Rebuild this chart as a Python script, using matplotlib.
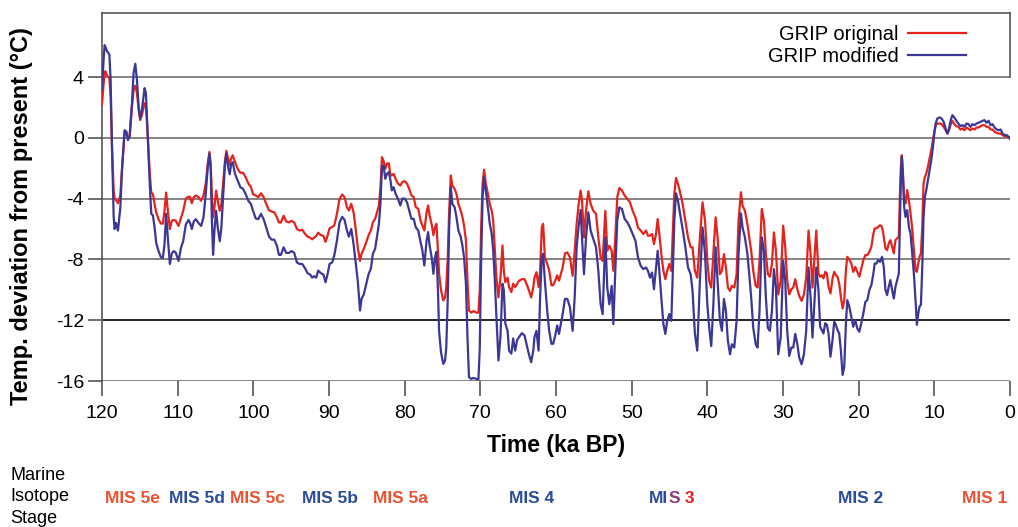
import matplotlib
matplotlib.use("Agg")
import matplotlib.pyplot as plt
from matplotlib import transforms

plt.rcParams['font.family'] = ['Liberation Sans', 'DejaVu Sans']
plt.rcParams['axes.unicode_minus'] = False

# age (ka BP), GRIP original and GRIP modified temperature deviation (°C)
age_ka = [
    120.0, 119.78, 119.65, 119.56, 119.34, 119.03, 118.86, 118.68, 118.46, 118.33,
    118.15, 117.89, 117.58, 117.36, 117.01, 116.79, 116.57, 116.35, 116.04, 115.82,
    115.6, 115.38, 115.16, 114.95, 114.73, 114.37, 114.2, 113.98, 113.71, 113.49,
    113.27, 113.05, 112.84, 112.53, 112.22, 111.96, 111.74, 111.52, 111.3, 111.03,
    110.77, 110.51, 110.24, 109.89, 109.54, 109.27, 108.92, 108.57, 108.35, 108.13,
    107.87, 107.6, 107.25, 106.9, 106.59, 106.29, 106.02, 105.8, 105.63, 105.49,
    105.32, 105.14, 104.92, 104.7, 104.44, 104.22, 104.0, 103.74, 103.56, 103.34,
    103.12, 102.95, 102.73, 102.42, 102.07, 101.71, 101.36, 101.01, 100.66, 100.31,
    100.04, 99.69, 99.34, 98.99, 98.64, 98.29, 97.93, 97.58, 97.23, 96.88,
    96.62, 96.35, 96.0, 95.65, 95.3, 94.95, 94.59, 94.24, 93.89, 93.54,
    93.19, 92.84, 92.48, 92.22, 91.96, 91.69, 91.43, 91.08, 90.73, 90.46,
    90.2, 89.93, 89.58,
    89.3, 88.95, 88.6, 88.25, 87.94, 87.63, 87.37, 87.06, 86.75, 86.5,
    86.2, 85.9, 85.7, 85.4, 85.07, 84.76, 84.46, 84.2, 83.9, 83.66,
    83.4, 83.2, 83.0, 82.8, 82.56, 82.34, 82.1, 81.9, 81.7, 81.46,
    81.2, 80.9, 80.57, 80.3, 80.0, 79.7, 79.4, 79.1, 78.8, 78.54,
    78.2, 77.9, 77.66, 77.4, 77.1, 76.9, 76.7, 76.4, 76.2, 75.98,
    75.8, 75.6, 75.45, 75.2, 74.9, 74.66, 74.5, 74.3, 74.13, 73.9,
    73.7, 73.4, 73.16, 72.9, 72.6, 72.37, 72.15, 71.9, 71.7, 71.5,
    71.2, 70.9, 70.5, 70.25, 70.07, 69.9, 69.7, 69.5, 69.28, 69.0,
    68.75, 68.5, 68.3, 68.1, 67.87, 67.6, 67.34, 67.07, 66.9, 66.7,
    66.4, 66.2, 65.9, 65.66, 65.4, 65.13, 64.87, 64.5, 64.16, 63.9,
    63.6, 63.28, 63.0, 62.84, 62.58, 62.3, 62.1, 61.87, 61.7, 61.47,
    61.16, 60.9, 60.6, 60.37, 60.1, 59.84, 59.6,
    59.12, 58.81, 58.5, 58.15, 57.8, 57.53, 57.27, 57.0, 56.74, 56.56,
    56.3, 56.03, 55.73, 55.42, 55.07, 54.71, 54.4, 54.1, 53.83, 53.48,
    53.22, 52.95, 52.64, 52.42, 52.16, 51.9, 51.63, 51.28, 50.92, 50.57,
    50.22, 49.87, 49.5, 49.16, 48.8, 48.46, 48.1, 47.84, 47.58, 47.3,
    47.05, 46.78, 46.56, 46.34, 46.08, 45.8, 45.55, 45.3, 45.02, 44.76,
    44.58, 44.36, 44.14, 43.88, 43.6, 43.26, 42.9, 42.55, 42.2,
    41.95, 41.64, 41.33, 40.98, 40.63, 40.3, 40.0, 39.75, 39.48, 39.2,
    38.9, 38.64, 38.34, 38.07, 37.8, 37.54, 37.28, 37.0, 36.75, 36.44,
    36.13, 35.87, 35.56, 35.34, 35.03, 34.7, 34.46, 34.2, 33.93, 33.6,
    33.36, 33.1, 32.8, 32.52, 32.26, 32.0, 31.73, 31.46, 31.2, 30.93,
    30.63, 30.3, 29.97, 29.7, 29.44, 29.17, 28.9, 28.64, 28.38, 28.1,
    27.85, 27.54, 27.23, 26.93, 26.62, 26.35, 26.1, 25.83, 25.6,
    25.31, 25.09, 24.87, 24.65, 24.42, 24.2, 23.98, 23.72, 23.45, 23.23,
    23.01, 22.79, 22.57, 22.35, 22.12, 21.9, 21.68, 21.5, 21.24, 20.97,
    20.71, 20.44, 20.18, 19.91, 19.65, 19.38, 19.12, 18.85, 18.58, 18.32,
    18.05, 17.88, 17.65, 17.43, 17.17, 16.9, 16.68, 16.46, 16.24, 16.02,
    15.8, 15.58, 15.35, 15.13, 14.91, 14.69, 14.56, 14.42, 14.29, 14.16,
    13.98, 13.81, 13.58, 13.36, 13.14, 12.92, 12.7, 12.48, 12.3, 12.12,
    11.95, 11.77, 11.59, 11.42, 11.24, 11.06, 10.84, 10.62, 10.4, 10.18,
    10.0, 9.82, 9.6, 9.29, 9.03, 8.76, 8.5, 8.27, 8.05, 7.83,
    7.61, 7.35, 7.08, 6.81, 6.55, 6.28, 6.02, 5.75, 5.49, 5.22,
    4.96, 4.69, 4.42, 4.16, 3.89, 3.63, 3.36, 3.1, 2.83, 2.57,
    2.3, 2.04, 1.77, 1.5, 1.24, 0.97, 0.71, 0.44, 0.18, 0.0,
]

grip_original = [
    2.2, 3.6, 4.2, 4.38, 4.1, 3.94, 2.7, -0.6, -3.5, -4.0,
    -4.1, -4.3, -3.8, -2.1, 0.4, 0.4, -0.05, 0.07, 2.06, 3.16,
    3.43, 2.94, 1.84, 1.17, 1.5, 2.28, 2.17, 0.3, -2.15, -3.6,
    -3.7, -4.36, -4.9, -5.35, -5.64, -5.64, -4.8, -3.6, -4.8, -6.0,
    -5.46, -5.4, -5.46, -5.8, -5.24, -4.8, -4.0, -3.87, -3.9, -4.3,
    -3.9, -3.8, -3.9, -4.14, -3.8, -3.0, -1.7, -0.93, -1.7, -3.7,
    -5.24, -4.58, -3.47, -4.14, -4.8, -4.36, -3.0, -1.48, -0.86, -1.37,
    -1.8, -1.37, -1.15, -1.6, -2.04, -2.3, -2.3, -2.6, -3.0, -3.25,
    -3.7, -3.8, -3.9, -3.65, -3.9, -4.36, -4.76, -4.85, -4.9, -5.24,
    -5.57, -5.57, -5.13, -5.5, -5.57, -5.46, -5.57, -6.0, -6.1, -6.05,
    -6.3, -6.5, -6.57, -6.68, -6.57, -6.46, -6.24, -6.4, -6.46, -6.84,
    -6.46, -5.95, -5.86,
    -5.77, -5.0, -4.0, -3.73, -3.9, -4.56, -4.78, -4.34, -4.9, -5.88,
    -7.2, -8.1, -7.63, -7.3, -6.86, -6.4, -6.1, -5.55, -5.33, -4.9,
    -4.45, -3.25, -1.27, -1.5, -2.04, -1.7, -1.67, -2.37, -2.48, -2.37,
    -2.7, -3.0, -3.14, -2.9, -2.85, -3.0, -3.36, -3.8, -3.9, -4.56,
    -4.67, -5.44, -5.77, -6.1, -4.9, -4.45, -5.1, -5.77, -6.4, -5.88,
    -5.66, -7.4, -8.95, -10.0, -10.7, -10.5, -9.8, -7.85, -5.0, -2.48,
    -3.14, -3.36, -3.68, -4.34, -4.78, -5.2, -5.77, -6.75, -9.4, -11.36,
    -11.5, -11.4, -11.5, -11.5, -10.0, -6.1, -3.0, -2.1, -3.0, -3.68,
    -4.34, -4.78, -5.44, -7.2, -9.2, -10.5, -9.2, -7.08, -8.73, -9.5,
    -9.2, -9.82, -10.15, -9.6, -9.82, -9.6, -9.4, -9.3, -9.3, -9.6,
    -10.0, -10.5, -9.82, -9.2, -8.84, -9.82, -8.73, -5.88, -5.66, -7.85,
    -8.3, -8.73, -9.7, -9.7, -9.4, -9.05, -9.4,
    -8.53, -7.6, -7.54, -7.87, -9.08, -7.43, -5.67, -4.35, -3.47, -4.13,
    -6.55, -4.8, -3.52, -4.35, -4.8, -5.0, -6.55, -7.87, -8.1, -4.8,
    -7.43, -7.1, -7.43, -8.75, -6.55, -3.9, -3.3, -3.47, -3.8, -4.02,
    -4.24, -4.8, -5.23, -5.9, -6.1, -6.33, -6.1, -6.44, -6.44, -6.33,
    -6.99, -6.33, -5.34, -6.33, -7.65, -8.75, -9.3, -8.75, -8.3, -8.75,
    -6.55, -3.7, -2.64, -3.03, -3.58, -4.35, -5.45, -6.55, -7.2,
    -7.2, -8.75, -9.2, -6.55, -4.24, -5.45, -8.1, -9.4, -9.85, -7.65,
    -5.23, -6.55, -8.97, -8.75, -7.65, -8.53, -9.85, -10.07, -9.74, -9.85,
    -8.97, -5.45, -3.58, -4.46, -4.8, -5.67, -6.55, -7.43, -8.75, -9.74,
    -9.85, -8.1, -4.68, -5.45, -7.65, -8.97, -9.14, -8.3, -6.22, -7.43,
    -10.3, -9.4, -5.78, -7.2, -9.4, -10.3, -9.96, -9.85, -9.3, -9.96,
    -10.4, -10.73, -10.3, -9.2, -6.1, -7.65, -9.85, -7.87, -6.1,
    -8.93, -9.14, -9.04, -9.25, -8.82, -8.93, -9.8, -10.24, -9.25, -8.82,
    -9.04, -9.14, -9.58, -10.46, -11.23, -10.68, -8.7, -7.83, -8.0, -8.27,
    -8.82, -8.49, -8.82, -9.14, -8.6, -8.05, -7.72, -7.72, -7.5, -7.17,
    -6.3, -5.96, -5.96, -5.86, -5.75, -5.86, -6.5, -7.28, -7.39, -6.95,
    -6.73, -7.17, -7.6, -6.73, -6.62, -6.5, -4.1, -1.9, -1.14, -2.13,
    -4.1, -4.32, -3.44, -4.1, -4.98, -5.96, -7.39, -8.7, -8.82, -8.27,
    -7.83, -7.6, -5.86, -3.0, -2.57, -2.35, -1.9, -1.36, -0.81, -0.15,
    0.39, 0.83, 0.94, 0.94, 0.9, 0.72, 0.5, 0.28, 0.5, 0.9,
    1.12, 0.9, 0.77, 0.72, 0.55, 0.61, 0.5, 0.68, 0.59, 0.5,
    0.61, 0.55, 0.68, 0.68, 0.77, 0.83, 0.83, 0.72, 0.72, 0.55,
    0.55, 0.39, 0.33, 0.28, 0.28, 0.18, 0.11, 0.11, 0.02, -0.07,
]

grip_modified = [
    3.2, 5.2, 6.1, 6.0, 5.7, 5.5, 3.8, -0.6, -5.2, -6.0,
    -5.6, -6.1, -4.6, -2.1, 0.5, 0.4, -0.15, 0.07, 2.3, 4.3,
    4.87, 3.8, 2.06, 1.28, 1.84, 3.27, 2.94, 0.5, -2.8, -5.0,
    -5.1, -5.9, -6.9, -7.45, -7.85, -7.9, -7.0, -5.0, -6.6, -8.3,
    -7.6, -7.45, -7.57, -8.1, -7.2, -6.8, -5.7, -5.4, -5.6, -6.0,
    -5.5, -5.35, -5.6, -5.8, -5.24, -3.7, -1.9, -1.04, -2.15, -5.24,
    -7.7, -6.1, -4.8, -5.9, -6.8, -5.9, -3.9, -1.7, -1.04, -1.9,
    -2.4, -1.8, -1.6, -2.37, -2.8, -3.25, -3.36, -3.7, -4.14, -4.36,
    -4.8, -5.3, -5.35, -5.0, -5.35, -5.9, -6.5, -6.7, -6.7, -7.1,
    -7.7, -7.7, -7.2, -7.57, -7.57, -7.45, -7.57, -8.2, -8.3, -8.3,
    -8.56, -8.9, -9.0, -9.2, -9.1, -9.2, -8.74, -8.9, -9.0, -9.5,
    -9.0, -8.3, -8.2,
    -7.74, -6.75, -5.55, -5.2, -5.4, -6.1, -6.5, -6.0, -7.0, -8.07,
    -9.4, -11.36, -10.6, -10.3, -9.6, -8.95, -8.6, -7.63, -7.3, -6.5,
    -5.66, -4.34, -1.93, -1.82, -2.7, -2.37, -2.26, -2.7, -3.46, -3.25,
    -3.68, -4.0, -4.45, -4.0, -4.0, -4.23, -4.78, -5.33, -5.33, -5.88,
    -6.1, -6.86, -7.4, -8.4, -6.75, -6.2, -7.08, -7.96, -8.95, -7.85,
    -7.5, -10.0, -12.7, -14.1, -14.87, -14.65, -13.8, -10.5, -6.1, -3.25,
    -4.34, -4.56, -5.2, -6.1, -6.5, -7.08, -7.85, -9.6, -13.1, -15.75,
    -15.86, -15.8, -15.86, -15.9, -13.8, -8.3, -3.9, -2.6, -3.46, -4.56,
    -5.66, -6.3, -7.4, -9.2, -11.8, -14.65, -13.1, -9.6, -10.0, -12.2,
    -12.7, -14.0, -14.2, -13.2, -14.0, -13.3, -13.1, -12.85, -13.0, -13.55,
    -14.2, -14.76, -14.0, -13.1, -12.7, -14.0, -10.5, -7.85, -7.63, -9.4,
    -11.36, -12.7, -13.55, -13.55, -13.0, -12.35, -12.9,
    -11.6, -10.6, -10.6, -11.16, -12.7, -10.5, -7.2, -5.78, -4.75, -6.55,
    -8.97, -6.55, -4.9, -6.1, -6.66, -7.2, -8.75, -10.95, -11.6, -6.55,
    -9.85, -10.95, -9.74, -12.26, -8.75, -5.45, -4.57, -4.68, -5.34, -5.56,
    -5.9, -6.33, -6.77, -7.87, -8.42, -8.64, -8.53, -8.75, -9.2, -8.86,
    -9.96, -8.53, -7.43, -8.75, -10.5, -12.26, -12.9, -12.04, -11.6, -12.04,
    -9.2, -5.45, -3.65, -4.13, -5.0, -6.0, -7.2, -8.53, -8.97,
    -10.07, -12.9, -14.0, -9.4, -5.9, -7.65, -10.95, -12.5, -13.7, -10.95,
    -7.2, -9.4, -12.0, -12.7, -10.6, -11.4, -13.36, -14.24, -13.58, -13.8,
    -12.04, -7.65, -4.97, -5.9, -6.55, -7.65, -8.97, -10.5, -12.5, -13.58,
    -13.8, -11.4, -6.55, -7.43, -10.5, -12.5, -12.7, -11.4, -8.64, -9.85,
    -14.24, -13.14, -8.1, -9.4, -12.7, -14.35, -13.8, -13.8, -12.9, -13.58,
    -14.46, -14.9, -14.24, -12.7, -8.53, -10.5, -13.14, -10.73, -8.53,
    -10.0, -12.43, -12.65, -12.87, -12.2, -12.3, -12.87, -14.4, -13.3, -12.1,
    -12.3, -12.65, -12.87, -13.97, -15.6, -15.07, -12.2, -10.68, -11.1, -11.78,
    -12.43, -12.0, -12.54, -12.76, -12.2, -11.56, -10.8, -10.68, -10.0, -9.7,
    -8.93, -8.27, -8.27, -8.05, -8.16, -7.83, -8.49, -10.0, -10.35, -9.8,
    -9.36, -10.0, -10.57, -9.8, -9.36, -8.93, -5.86, -2.79, -1.25, -2.35,
    -4.54, -5.2, -4.76, -5.86, -6.3, -7.6, -8.93, -10.68, -12.3, -11.56,
    -11.1, -11.0, -8.49, -5.2, -3.88, -3.44, -2.79, -2.13, -1.47, -0.6,
    0.28, 0.94, 1.27, 1.34, 1.27, 1.05, 0.61, 0.28, 0.61, 1.16,
    1.49, 1.34, 1.12, 0.94, 0.77, 0.83, 0.72, 0.94, 0.9, 0.72,
    0.9, 0.83, 0.94, 0.99, 1.05, 1.12, 1.16, 0.99, 1.12, 0.83,
    0.9, 0.68, 0.55, 0.5, 0.55, 0.28, 0.18, 0.18, 0.07, -0.04,
]

x_ticks = list(range(120, -1, -10))
y_ticks = [4, 0, -4, -8, -12, -16]

mis_labels = ['MIS 5e', 'MIS 5d', 'MIS 5c', 'MIS 5b', 'MIS 5a', 'MIS 4', 'MIS 3', 'MIS 2', 'MIS 1']
mis_centres = [116.0, 107.4, 99.4, 89.9, 80.6, 63.2, 44.7, 19.7, 3.3]

RED = '#e3231c'
BLUE = '#3b3796'
MIS_RED = '#ea5230'
MIS_BLUE = '#2b4b9b'
mis_colours = [MIS_RED, MIS_BLUE, MIS_RED, MIS_BLUE, MIS_RED, MIS_BLUE, None, MIS_BLUE, MIS_RED]

fig = plt.figure(figsize=(10.18, 5.27), dpi=100)
ax = fig.add_axes([0.1002, 0.277, 0.8919, 0.698])

ax.plot(age_ka, grip_original, color=RED, lw=1.6, label='GRIP original', zorder=3)
ax.plot(age_ka, grip_modified, color=BLUE, lw=1.6, label='GRIP modified', zorder=4)

ax.set_xlim(120, 0)
ax.set_ylim(-16, 8.2)
ax.set_xticks(x_ticks)
ax.set_yticks(y_ticks)
ax.tick_params(axis='x', direction='out', length=11, width=1.2, color='#555555',
               labelsize=14, pad=6)
ax.tick_params(axis='y', direction='out', length=10, width=1.2, color='#555555',
               labelsize=14, pad=3)

for y in y_ticks:
    ax.axhline(y, color='black' if y == -12 else '#6e6e6e', lw=1.2, zorder=1)

for side in ['left', 'top', 'right', 'bottom']:
    ax.spines[side].set_color('#555555')
    ax.spines[side].set_linewidth(1.2)
ax.spines['bottom'].set_visible(False)
ax.spines['right'].set_bounds(4, 8.2)

ax.set_xlabel('Time (ka BP)', fontsize=16.5, fontweight='bold', labelpad=9)
ax.set_ylabel('Temp. deviation from present (°C)', fontsize=17, fontweight='bold')
ax.yaxis.set_label_coords(-0.076, 0.448)

ax.legend(loc='upper right', frameon=False, markerfirst=False, fontsize=14.5,
          handlelength=2.9, handletextpad=0.45, labelspacing=0.15,
          bbox_to_anchor=(0.972, 1.018))

fig.text(0.01, 0.057, 'Marine\nIsotope\nStage', fontsize=13, ha='left', va='center',
         linespacing=1.32)

trans = transforms.blended_transform_factory(ax.transData, fig.transFigure)
mis_font = dict(fontsize=12.5, fontweight='bold')
for label, centre, colour in zip(mis_labels, mis_centres, mis_colours):
    if colour is not None:
        fig.text(centre, 0.055, label, color=colour, ha='center', va='center',
                 transform=trans, **mis_font)
    else:
        # MIS 3 fades from blue into red
        full = fig.text(centre, 0.055, label, alpha=0, ha='center', va='center',
                        transform=trans, **mis_font)
        fig.canvas.draw()
        x0 = full.get_window_extent().x0
        for part, col in [('MI', MIS_BLUE), ('S', '#8a3a7e'), (' 3', '#e2202a')]:
            t = fig.text(x0 / fig.bbox.width, 0.055, part, color=col, ha='left', va='center',
                         **mis_font)
            fig.canvas.draw()
            x0 = t.get_window_extent().x1

fig.savefig('out.png', dpi=100)
